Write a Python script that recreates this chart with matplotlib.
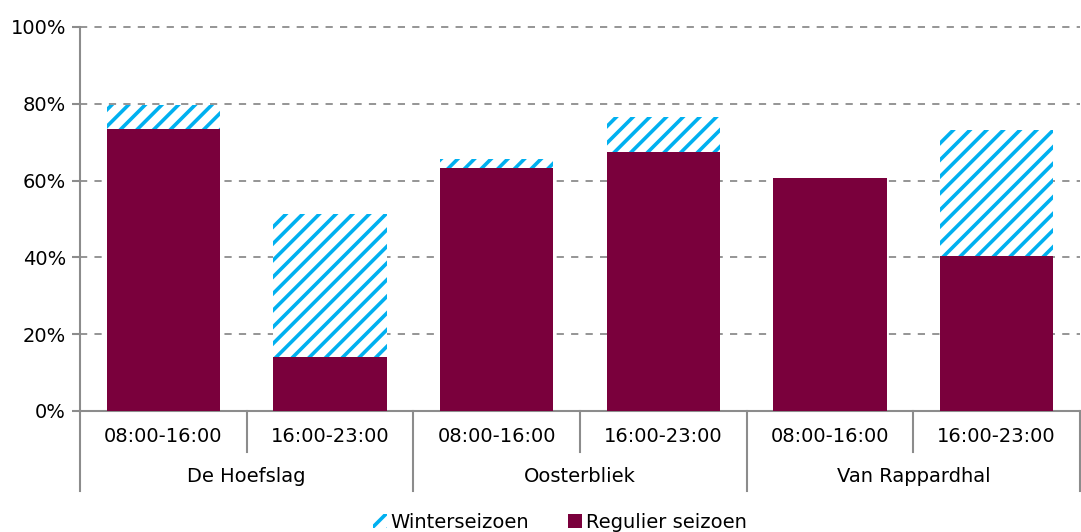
import numpy as np
import matplotlib.pyplot as plt
from matplotlib.patches import Patch
import matplotlib.transforms as mtrans

# gegevens (bezettingsgraad per hal en tijdvak)
hallen = ['De Hoefslag', 'Oosterbliek', 'Van Rappardhal']
tijdvakken = ['08:00-16:00', '16:00-23:00'] * 3
regulier = [73.4, 14.1, 63.3, 67.4, 60.7, 40.4]
winter_extra = [6.3, 37.2, 2.3, 9.2, 0.0, 32.8]

rood = '#7A003C'
blauw = '#00B0F0'
grijs = '#8C8C8C'

plt.rcParams['font.family'] = 'DejaVu Sans'
plt.rcParams['hatch.linewidth'] = 2.6

fig = plt.figure(figsize=(10.81, 5.32), dpi=100)
ax = fig.add_axes([80 / 1081, (532 - 411) / 532, 1000 / 1081, 384 / 532])

x = np.arange(len(regulier)) + 0.5
breedte = 0.68

ax.bar(x, regulier, breedte, color=rood, zorder=3)
ax.bar(x, winter_extra, breedte, bottom=regulier, facecolor='white',
       edgecolor=blauw, hatch='//', linewidth=0, zorder=3)

# assen
ax.set_xlim(0, 6)
ax.set_ylim(0, 100)
ax.set_yticks(np.arange(0, 101, 20))
ax.set_yticklabels([f'{v}%' for v in range(0, 101, 20)], fontsize=14)
for v in range(20, 101, 20):
    ax.axhline(v, linestyle=(0, (4, 4)), color=grijs, linewidth=1.3,
               zorder=1, clip_on=False)
for s in ['top', 'right']:
    ax.spines[s].set_visible(False)
for s in ['left', 'bottom']:
    ax.spines[s].set_color(grijs)
    ax.spines[s].set_linewidth(1.5)
ax.tick_params(axis='y', length=6, width=1.5, color=grijs, pad=4)
ax.set_xticks([])

# categorie-labels onder de as
trans = mtrans.blended_transform_factory(ax.transData, fig.transFigure)
y_tijd = (532 - 437) / 532
y_hal = (532 - 476) / 532
for xi, lab in zip(x, tijdvakken):
    ax.text(xi, y_tijd, lab, transform=trans, ha='center', va='center', fontsize=14)
for i, hal in enumerate(hallen):
    ax.text(2 * i + 1, y_hal, hal, transform=trans, ha='center', va='center', fontsize=14)

# scheidingslijnen
y0 = (532 - 411) / 532
for xs in [1, 3, 5]:
    ax.plot([xs, xs], [y0, (532 - 452) / 532], transform=trans, color=grijs,
            linewidth=1.5, clip_on=False)
for xs in [0, 2, 4, 6]:
    ax.plot([xs, xs], [y0, (532 - 491) / 532], transform=trans, color=grijs,
            linewidth=1.5, clip_on=False)

# legenda
handles = [Patch(facecolor='white', edgecolor=blauw, hatch='//', linewidth=0),
           Patch(facecolor=rood)]
fig.legend(handles, ['Winterseizoen', 'Regulier seizoen'], loc='center',
           bbox_to_anchor=(0.518, (532 - 522) / 532), ncol=2, frameon=False,
           fontsize=14, handlelength=0.7, handleheight=0.7, handletextpad=0.2,
           columnspacing=2.0)

fig.savefig('out.png', dpi=100)
